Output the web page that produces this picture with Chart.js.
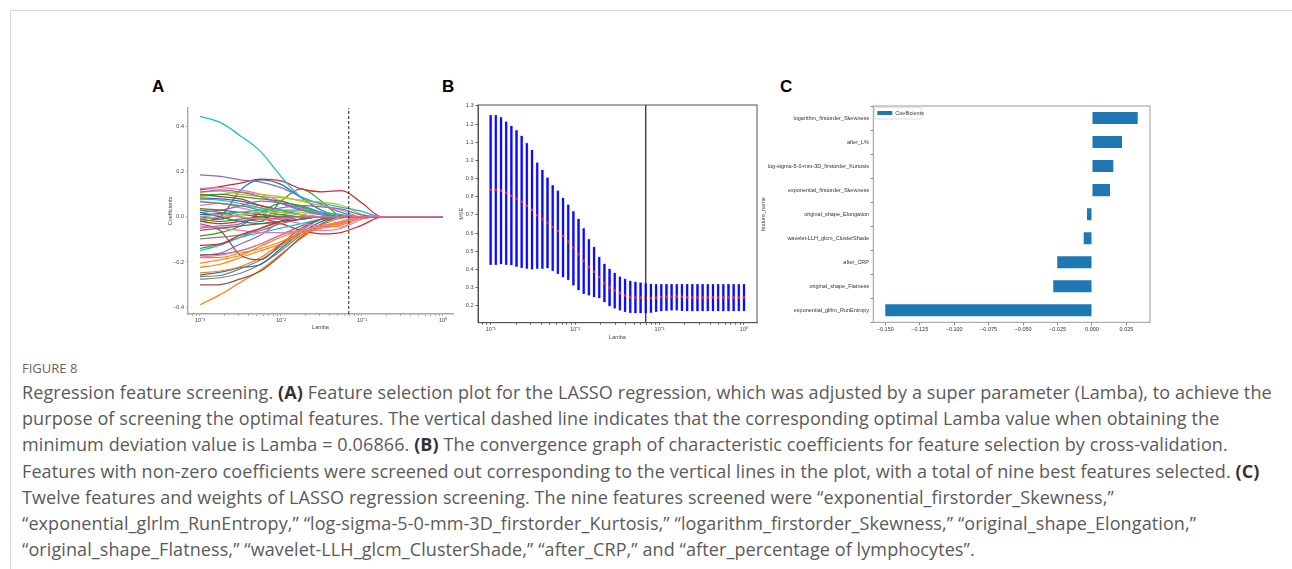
<!DOCTYPE html>
<html lang="en">
<head>
<meta charset="UTF-8" />
<title>Figure 8 - LASSO feature screening</title>
<style>
  body {
    margin: 0;
    width: 1292px;
    height: 569px;
    overflow: hidden;
    position: relative;
    background: #fff;
    font-family: "Liberation Sans", Arial, sans-serif;
  }
  .rule-top { position: absolute; left: 10px; right: 0; top: 10px; border-top: 1px solid #d8d8d8; }
  .rule-left { position: absolute; left: 10px; top: 10px; bottom: 0; border-left: 1px solid #d8d8d8; }
  .panel-label { position: absolute; font-weight: bold; font-size: 17px; color: #000; }
  canvas { position: absolute; }
  .fig-no { position: absolute; left: 22px; top: 359px; font-family: "Open Sans", sans-serif; font-size: 13px; color: #666; }
  .caption { position: absolute; left: 22px; top: 379px; font-family: "Open Sans", sans-serif; font-size: 18px; letter-spacing: 0.1px; line-height: 26.2px; color: #5a5a5a; white-space: nowrap; }
  .caption b { color: #333; }
</style>
</head>
<body>

<div class="rule-top"></div>
<div class="rule-left"></div>

<div class="panel-label" style="left:152px; top:77px;">A</div>
<div class="panel-label" style="left:442px; top:77px;">B</div>
<div class="panel-label" style="left:780px; top:77px;">C</div>

<canvas id="pathChart" width="315" height="236" style="left:150px; top:95px;"></canvas>
<canvas id="cvChart" width="320" height="246" style="left:445px; top:95px;"></canvas>
<canvas id="coefChart" width="405" height="245" style="left:755px; top:95px;"></canvas>

<div class="fig-no">FIGURE 8</div>
<div class="caption">
  Regression feature screening. <b>(A)</b> Feature selection plot for the LASSO regression, which was adjusted by a super parameter (Lamba), to achieve the<br>
  purpose of screening the optimal features. The vertical dashed line indicates that the corresponding optimal Lamba value when obtaining the<br>
  minimum deviation value is Lamba = 0.06866. <b>(B)</b> The convergence graph of characteristic coefficients for feature selection by cross-validation.<br>
  Features with non-zero coefficients were screened out corresponding to the vertical lines in the plot, with a total of nine best features selected. <b>(C)</b><br>
  Twelve features and weights of LASSO regression screening. The nine features screened were “exponential_firstorder_Skewness,”<br>
  “exponential_glrlm_RunEntropy,” “log-sigma-5-0-mm-3D_firstorder_Kurtosis,” “logarithm_firstorder_Skewness,” “original_shape_Elongation,”<br>
  “original_shape_Flatness,” “wavelet-LLH_glcm_ClusterShade,” “after_CRP,” and “after_percentage of lymphocytes”.
</div>

<script src="https://cdn.jsdelivr.net/npm/chart.js"></script>
<script>
  // ---- A: coefficient paths, one row per feature, sampled at pathLambdas ----
  const pathLambdas = [0.001, 0.001778, 0.003162, 0.005623, 0.01, 0.01778, 0.03162, 0.05623, 0.1, 0.1778, 1.0];
  const coefPaths = [
    [-0.02, 0.00, 0.12, 0.165, 0.145, 0.085, 0.03, 0.005, 0, 0, 0],
    [-0.39, -0.345, -0.29, -0.235, -0.165, -0.095, -0.035, -0.005, 0, 0, 0],
    [0.03, 0.02, 0.00, -0.02, 0.07, 0.125, 0.07, 0.003, 0, 0, 0],
    [0.12, 0.135, 0.15, 0.168, 0.16, 0.125, 0.112, 0.117, 0.062, 0, 0],
    [0.187, 0.18, 0.165, 0.155, 0.13, 0.09, 0.055, 0.02, 0, 0, 0],
    [-0.302, -0.30, -0.275, -0.24, -0.17, -0.09, -0.03, 0, 0, 0, 0],
    [0.126, 0.13, 0.12, 0.10, 0.07, 0.04, 0.015, 0, 0, 0, 0],
    [-0.276, -0.27, -0.25, -0.21, -0.15, -0.08, -0.02, 0, 0, 0, 0],
    [0.11, 0.115, 0.10, 0.09, 0.085, 0.075, 0.065, 0.052, 0.012, 0, 0],
    [0.447, 0.42, 0.36, 0.29, 0.18, 0.088, 0.06, 0.043, 0.025, 0, 0],
    [-0.258, -0.245, -0.225, -0.21, -0.14, -0.07, -0.02, 0, 0, 0, 0],
    [-0.248, -0.24, -0.22, -0.18, -0.12, -0.07, -0.04, -0.02, 0, 0, 0],
    [-0.14, -0.12, -0.09, -0.05, -0.02, 0, 0, 0, 0, 0, 0],
    [-0.02, -0.03, -0.02, -0.01, -0.03, -0.06, -0.075, -0.068, -0.036, 0, 0],
    [-0.17, -0.16, -0.12, -0.08, -0.02, 0, 0, 0, 0, 0, 0],
    [-0.169, -0.165, -0.15, -0.12, -0.08, -0.04, -0.01, 0, 0, 0, 0],
    [-0.178, -0.17, -0.15, -0.12, -0.08, -0.06, -0.06, -0.05, 0, 0, 0],
    [-0.265, -0.26, -0.23, -0.19, -0.13, -0.06, -0.01, 0, 0, 0, 0],
    [0.09, 0.10, 0.11, 0.10, 0.09, 0.07, 0.05, 0.03, 0, 0, 0],
    [-0.149, -0.125, -0.09, -0.07, -0.05, -0.03, -0.01, 0, 0, 0, 0],
    [0.085, 0.08, 0.07, 0.05, 0.03, 0.01, 0, 0, 0, 0, 0],
    [-0.224, -0.21, -0.18, -0.15, -0.12, -0.08, -0.045, -0.025, 0, 0, 0],
    [-0.085, -0.07, -0.04, 0.02, 0.06, 0.05, 0.02, 0, 0, 0, 0],
    [0.10, 0.09, 0.08, 0.05, 0.03, 0.01, 0, 0, 0, 0, 0],
    [-0.05, -0.04, -0.03, 0.02, 0.04, 0.05, 0.045, 0.035, 0.008, 0, 0],
    [-0.03, -0.06, -0.17, -0.19, -0.12, -0.05, -0.01, 0, 0, 0, 0],
    [0.052, 0.06, 0.04, 0.02, -0.01, -0.03, -0.04, -0.045, -0.01, 0, 0],
    [-0.097, -0.09, -0.08, -0.06, -0.03, -0.01, 0, 0, 0, 0, 0],
    [0.07, 0.06, 0.05, 0.04, 0.03, 0.02, 0.01, 0, 0, 0, 0],
    [0.079, 0.075, 0.06, 0.04, 0.02, 0.01, 0, 0, 0, 0, 0],
    [0.01, 0.015, 0.02, 0.01, 0, 0, 0, 0, 0, 0, 0],
    [-0.205, -0.19, -0.17, -0.13, -0.09, -0.06, -0.04, -0.03, 0, 0, 0],
    [0.097, 0.10, 0.09, 0.08, 0.07, 0.045, 0.02, 0, 0, 0, 0],
    [0.0, -0.01, 0.01, 0.0, -0.01, 0, 0, 0, 0, 0, 0],
    [0.02, 0.03, 0.05, 0.07, 0.06, 0.035, 0.01, 0, 0, 0, 0],
    [0.037, 0.03, 0.02, 0.01, 0, 0, 0, 0, 0, 0, 0],
    [-0.04, -0.05, -0.06, -0.07, -0.07, -0.06, -0.04, -0.02, 0, 0, 0],
    [0.067, 0.06, 0.05, 0.03, 0.01, 0, 0, 0, 0, 0, 0],
    [-0.01, 0.0, 0.01, 0.02, 0.02, 0.01, 0, 0, 0, 0, 0],
    [0.0, 0.01, 0.02, 0.03, 0.03, 0.03, 0.02, 0.01, 0, 0, 0],
    [0.02, 0.0, -0.02, -0.03, -0.02, -0.01, 0, 0, 0, 0, 0],
    [-0.181, -0.18, -0.16, -0.14, -0.11, -0.07, -0.05, -0.035, -0.005, 0, 0],
    [-0.01, -0.02, -0.01, 0.0, 0.01, 0, 0, 0, 0, 0, 0],
    [-0.126, -0.12, -0.08, -0.05, -0.02, 0, 0, 0, 0, 0, 0],
    [0.11, 0.12, 0.11, 0.09, 0.06, 0.03, 0.01, 0, 0, 0, 0],
    [-0.06, -0.05, -0.04, -0.03, -0.02, -0.01, 0, 0, 0, 0, 0],
    [0.0, 0.01, 0.0, -0.01, -0.01, 0, 0, 0, 0, 0, 0]
  ];
  const bestLambda = 0.06866;

  // ---- B: cross-validated MSE on the lambda grid ----
  const cvLambdas = [
    0.001, 0.001151, 0.001326, 0.001526, 0.001758, 0.002024, 0.002330, 0.002683, 0.003089, 0.003556,
    0.004095, 0.004715, 0.005429, 0.006251, 0.007197, 0.008286, 0.009541, 0.010985, 0.012649, 0.014563,
    0.016768, 0.019307, 0.022230, 0.025595, 0.029471, 0.033932, 0.039069, 0.044984, 0.051795, 0.059636,
    0.068665, 0.079060, 0.091030, 0.104811, 0.120679, 0.138950, 0.159986, 0.184207, 0.212095, 0.244205,
    0.281177, 0.323746, 0.372759, 0.429193, 0.494171, 0.568987, 0.655129, 0.754312, 0.868511, 1.0
  ];
  const mseMean = [
    0.838, 0.838, 0.834, 0.822, 0.805, 0.789, 0.772, 0.750, 0.728, 0.698,
    0.678, 0.656, 0.634, 0.612, 0.583, 0.552, 0.521, 0.484, 0.447, 0.413,
    0.387, 0.358, 0.325, 0.300, 0.284, 0.270, 0.257, 0.248, 0.245, 0.245,
    0.243, 0.243, 0.244, 0.247, 0.248, 0.250, 0.251, 0.249, 0.246, 0.245,
    0.245, 0.245, 0.245, 0.245, 0.245, 0.245, 0.245, 0.245, 0.245, 0.245
  ];
  const mseUpper = [
    1.250, 1.250, 1.238, 1.214, 1.190, 1.166, 1.135, 1.095, 1.058, 0.988,
    0.948, 0.906, 0.865, 0.834, 0.794, 0.757, 0.720, 0.678, 0.627, 0.567,
    0.525, 0.470, 0.431, 0.404, 0.381, 0.361, 0.348, 0.338, 0.332, 0.328,
    0.324, 0.321, 0.320, 0.320, 0.320, 0.320, 0.320, 0.320, 0.320, 0.320,
    0.320, 0.320, 0.320, 0.320, 0.320, 0.320, 0.320, 0.320, 0.320, 0.320
  ];
  const mseLower = [
    0.425, 0.425, 0.429, 0.425, 0.424, 0.416, 0.409, 0.404, 0.400, 0.405,
    0.405, 0.407, 0.392, 0.376, 0.358, 0.343, 0.312, 0.286, 0.266, 0.257,
    0.248, 0.242, 0.220, 0.198, 0.185, 0.175, 0.167, 0.161, 0.160, 0.160,
    0.159, 0.162, 0.166, 0.171, 0.173, 0.174, 0.174, 0.172, 0.171, 0.171,
    0.171, 0.171, 0.171, 0.171, 0.171, 0.171, 0.171, 0.171, 0.171, 0.171
  ];

  // ---- C: selected features and their coefficients (top to bottom) ----
  const featureNames = [
    'logarithm_firstorder_Skewness',
    'after_L%',
    'log-sigma-5-0-mm-3D_firstorder_Kurtosis',
    'exponential_firstorder_Skewness',
    'original_shape_Elongation',
    'wavelet-LLH_glcm_ClusterShade',
    'after_CRP',
    'original_shape_Flatness',
    'exponential_glrlm_RunEntropy'
  ];
  const featureCoefs = [0.0332, 0.0218, 0.0155, 0.0131, -0.0036, -0.0060, -0.0252, -0.0281, -0.1500];

  const tab10 = ['#1f77b4', '#ff7f0e', '#2ca02c', '#d62728', '#9467bd',
                 '#8c564b', '#e377c2', '#7f7f7f', '#bcbd22', '#17becf'];

  Chart.defaults.font.family = '"Liberation Sans", Arial, sans-serif';
  Chart.defaults.color = '#333';
  Chart.defaults.animation = false;
  Chart.defaults.events = [];
  Chart.defaults.plugins.legend.display = false;
  Chart.defaults.plugins.tooltip.enabled = false;

  const MINUS = '\u2212';
  const sup = { '-3': '⁻³', '-2': '⁻²', '-1': '⁻¹', '0': '⁰' };

  // 1..9 x 10^e ticks inside [min, max], labels only on the decades
  function logTicks(scale) {
    const out = [];
    for (let e = -4; e <= 1; e++) {
      for (let m = 1; m < 10; m++) {
        const v = m * Math.pow(10, e);
        if (v >= scale.min && v <= scale.max) out.push({ value: v, major: m === 1 });
      }
    }
    scale.ticks = out;
  }
  function decadeLabel(v) {
    const e = Math.round(Math.log10(v));
    return Math.abs(Math.log10(v) - e) < 1e-6 ? '10' + sup[String(e)] : '';
  }
  function signed(v, digits) {
    const s = Math.abs(v).toFixed(digits);
    return (v < -1e-9 ? MINUS : '') + s;
  }

  // full box around the plotting area, plus an in-axes legend when asked
  const boxFrame = {
    id: 'boxFrame',
    afterDatasetsDraw(chart, args, opts) {
      if (!opts.color) return;
      const { ctx, chartArea: a } = chart;
      ctx.save();
      ctx.strokeStyle = opts.color;
      ctx.lineWidth = opts.width || 1;
      ctx.strokeRect(a.left, a.top, a.right - a.left, a.bottom - a.top);
      if (opts.legend) {
        const ds = chart.data.datasets[0];
        const x = a.left + 1, y = a.top + 1.7;
        ctx.beginPath();
        ctx.roundRect(x, y, 47.5, 11.3, 1.5);
        ctx.fillStyle = '#fff';
        ctx.fill();
        ctx.strokeStyle = '#d4d4d4';
        ctx.lineWidth = 0.8;
        ctx.stroke();
        ctx.fillStyle = ds.backgroundColor;
        ctx.fillRect(x + 3, y + 3.3, 15, 4);
        ctx.fillStyle = '#333';
        ctx.font = '5.5px "Liberation Sans", Arial, sans-serif';
        ctx.textBaseline = 'middle';
        ctx.fillText(ds.label, x + 21, y + 5.5);
      }
      ctx.restore();
    }
  };

  // ---------- Panel A ----------
  const pathSets = [];
  coefPaths.forEach((row, i) => {
    // first dataset is painted on top, so later features go to the front
    pathSets.unshift({
      data: row.map((c, k) => ({ x: pathLambdas[k], y: c })),
      borderColor: tab10[i % 10],
      borderWidth: 1.25,
      pointRadius: 0,
      showLine: true,
      cubicInterpolationMode: 'monotone'
    });
  });
  const aMin = -0.431, aMax = 0.484;
  pathSets.unshift({
    data: [{ x: bestLambda, y: aMin }, { x: bestLambda, y: aMax }],
    borderColor: '#222',
    borderWidth: 1,
    borderDash: [3, 2],
    pointRadius: 0,
    showLine: true
  });

  new Chart(document.getElementById('pathChart'), {
    type: 'scatter',
    data: { datasets: pathSets },
    options: {
      responsive: false,
      layout: { padding: { left: 17.5, right: 12, top: 13, bottom: 0 } },
      scales: {
        x: {
          type: 'logarithmic',
          min: 0.0007112, max: 1.329,
          afterBuildTicks: logTicks,
          afterFit: s => { s.height = 17; },
          border: { color: '#a8a8a8', width: 1.4 },
          grid: { drawOnChartArea: false, tickLength: 2, color: '#a8a8a8' },
          ticks: { autoSkip: false, maxRotation: 0, padding: 1, font: { size: 5.5 }, color: '#444', callback: decadeLabel },
          title: { display: true, text: 'Lamba', padding: 0, font: { size: 5.5 }, color: '#444' }
        },
        y: {
          min: aMin, max: aMax,
          afterFit: s => { s.width = 20.5; },
          border: { color: '#a8a8a8', width: 1.4 },
          grid: { drawOnChartArea: false, tickLength: 2, color: '#a8a8a8' },
          ticks: { stepSize: 0.2, includeBounds: false, padding: 2, font: { size: 5.5 }, color: '#444', callback: v => signed(v, 1) },
          title: { display: true, text: 'Coefficients', padding: 0, font: { size: 5.5 }, color: '#444' }
        }
      }
    }
  });

  // ---------- Panel B ----------
  const bMin = 0.107, bMax = 1.305;
  new Chart(document.getElementById('cvChart'), {
    type: 'bar',
    data: {
      datasets: [
        {
          type: 'line',
          data: [{ x: bestLambda, y: bMin }, { x: bestLambda, y: bMax }],
          borderColor: '#222',
          borderWidth: 1.2,
          pointRadius: 0
        },
        {
          type: 'line',
          data: cvLambdas.map((x, i) => ({ x, y: mseMean[i] })),
          showLine: false,
          pointRadius: 1.3,
          pointBorderWidth: 0,
          pointBackgroundColor: '#ff2a2a'
        },
        {
          data: cvLambdas.map((x, i) => ({ x, y: [mseLower[i], mseUpper[i]] })),
          backgroundColor: '#0a0aff',
          borderColor: 'rgba(130,130,255,0.85)',
          borderWidth: 0.5,
          borderSkipped: false,
          barThickness: 2.4
        }
      ]
    },
    options: {
      responsive: false,
      layout: { padding: { left: 13.4, right: 8, top: 10, bottom: 0 } },
      plugins: { boxFrame: { color: '#555', width: 1 } },
      scales: {
        x: {
          type: 'logarithmic',
          offset: false,
          min: 0.0007079, max: 1.426,
          afterBuildTicks: logTicks,
          afterFit: s => { s.height = 18.3; },
          border: { color: '#555', width: 1 },
          grid: { offset: false, drawOnChartArea: false, tickLength: 2, color: '#666' },
          ticks: { autoSkip: false, maxRotation: 0, padding: 1, font: { size: 5.5 }, color: '#444', callback: decadeLabel },
          title: { display: true, text: 'Lamba', padding: 0, font: { size: 5.5 }, color: '#444' }
        },
        y: {
          min: bMin, max: bMax,
          afterFit: s => { s.width = 19.6; },
          border: { color: '#555', width: 1 },
          grid: { drawOnChartArea: false, tickLength: 2.5, color: '#666' },
          ticks: { stepSize: 0.1, includeBounds: false, padding: 2, font: { size: 5.5 }, color: '#444', callback: v => v.toFixed(1) },
          title: { display: true, text: 'MSE', padding: 0, font: { size: 5.5 }, color: '#444' }
        }
      }
    },
    plugins: [boxFrame]
  });

  // ---------- Panel C ----------
  new Chart(document.getElementById('coefChart'), {
    type: 'bar',
    data: {
      labels: featureNames,
      datasets: [{
        label: 'Coefficients',
        data: featureCoefs,
        backgroundColor: '#1f77b4',
        barPercentage: 0.5,
        categoryPercentage: 1.0
      }]
    },
    options: {
      indexAxis: 'y',
      responsive: false,
      layout: { padding: { left: 5.3, right: 10, top: 11, bottom: 0 } },
      plugins: {
        boxFrame: { color: '#9a9a9a', width: 1, legend: true }
      },
      scales: {
        x: {
          min: -0.1587, max: 0.0421,
          afterFit: s => { s.height = 17.7; },
          border: { display: false },
          grid: { drawOnChartArea: false, tickLength: 3, color: '#888' },
          ticks: { stepSize: 0.025, includeBounds: false, padding: 0.5, font: { size: 5.5 }, color: '#333', callback: v => signed(v, 3) }
        },
        y: {
          afterFit: s => { s.width = 113; },
          border: { display: false },
          grid: { drawOnChartArea: false, tickLength: 3, color: '#888' },
          ticks: { padding: 1.3, font: { size: 5.5 }, color: '#333' },
          title: { display: true, text: 'feature_name', padding: 0, font: { size: 5.5 }, color: '#444' }
        }
      }
    },
    plugins: [boxFrame]
  });
</script>

</body>
</html>
